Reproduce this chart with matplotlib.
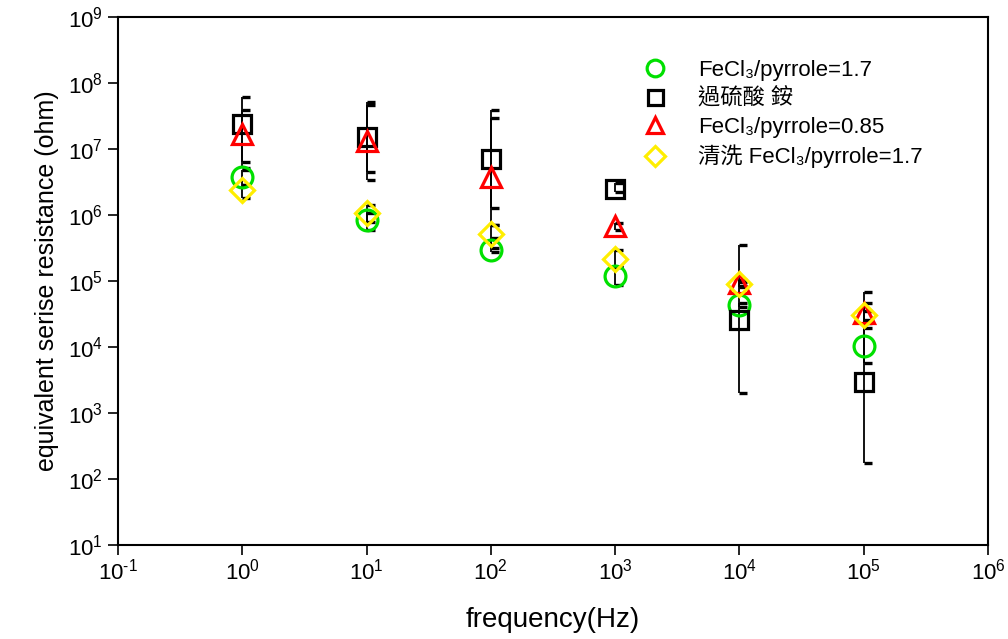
import numpy as np
import matplotlib
matplotlib.use("Agg")
import matplotlib.pyplot as plt
from matplotlib.path import Path
from matplotlib.ticker import FuncFormatter

plt.rcParams['font.family'] = ['Liberation Sans', 'Noto Sans CJK TC', 'DejaVu Sans']
plt.rcParams['mathtext.fontset'] = 'custom'
plt.rcParams['mathtext.rm'] = 'Liberation Sans'
plt.rcParams['mathtext.it'] = 'Liberation Sans:italic'
plt.rcParams['mathtext.bf'] = 'Liberation Sans:bold'
plt.rcParams['mathtext.default'] = 'regular'
plt.rcParams['axes.unicode_minus'] = False

# ---- data ----
freq = [1, 10, 100, 1000, 1e4, 1e5]

labels = ["FeCl\u2083/pyrrole=1.7", "過硫酸 銨", "FeCl\u2083/pyrrole=0.85", "清洗 FeCl\u2083/pyrrole=1.7"]

esr_fecl_17 = [3.77e6, 8.4e5, 2.95e5, 1.19e5, 4.3e4, 1.04e4]
lo_fecl_17 = [2.85e6, 5.93e5, 2.75e5, 8.7e4, 4.0e4, 5.7e3]
hi_fecl_17 = [4.8e6, 1.07e6, 4.49e5, 1.63e5, 4.6e4, 1.94e4]

esr_aps = [2.4e7, 1.5e7, 7.1e6, 2.46e6, 2.6e4, 2.9e3]
lo_aps = [6.36e6, 4.49e6, 1.28e6, 2.23e6, 2.0e3, 1.75e2]
hi_aps = [6.14e7, 5.15e7, 3.9e7, 3.05e6, 3.5e5, 6.8e4]

esr_fecl_085 = [1.7e7, 1.3e7, 3.8e6, 6.7e5, 9.4e4, 3.3e4]
lo_fecl_085 = [5.15e6, 3.39e6, 7.05e5, 6.0e5, 8.5e4, 2.31e4]
hi_fecl_085 = [3.9e7, 4.64e7, 2.95e7, 7.5e5, 1.05e5, 4.64e4]

esr_washed = [2.4e6, 1.07e6, 5.1e5, 2.14e5, 9.0e4, 3.05e4]
lo_washed = [1.81e6, 7.8e5, 3.16e5, 1.63e5, 8.2e4, 2.6e4]
hi_washed = [2.85e6, 1.42e6, 7.05e5, 2.95e5, 9.8e4, 3.5e4]

series = [
    (esr_fecl_17, lo_fecl_17, hi_fecl_17, 'o', '#00e000', 15),
    (esr_aps, lo_aps, hi_aps, 's', 'black', 13.5),
    (esr_fecl_085, lo_fecl_085, hi_fecl_085, '^', 'red', 15),
    (esr_washed, lo_washed, hi_washed, 'D', '#ffee00', 12.5),
]

x_ticks = [1e-1, 1e0, 1e1, 1e2, 1e3, 1e4, 1e5, 1e6]
y_ticks = [1e1, 1e2, 1e3, 1e4, 1e5, 1e6, 1e7, 1e8, 1e9]


def sci(v, pos):
    e = int(round(np.log10(v)))
    if e < 0:
        return r'$10^{\text{-%d}}$' % (-e)
    return r'$10^{%d}$' % e


# ---- figure ----
fig = plt.figure(figsize=(10.08, 6.39), dpi=100)
ax = fig.add_axes([118 / 1008, 1 - 545 / 639, 870 / 1008, 528 / 639])
ax.set_xscale('log')
ax.set_yscale('log')
ax.set_xlim(1e-1, 1e6)
ax.set_ylim(1e1, 1e9)

cap = Path([(0, 0), (1, 0)], [Path.MOVETO, Path.LINETO])

for vals, lo, hi, m, c, ms in series:
    v = np.array(vals)
    ax.errorbar(freq, v, yerr=[v - np.array(lo), np.array(hi) - v], fmt='none',
                ecolor='black', elinewidth=1.3, capsize=0, zorder=2)
    ax.plot(freq, lo, linestyle='none', marker=cap, markersize=12,
            markeredgewidth=2.4, color='black', zorder=2)
    ax.plot(freq, hi, linestyle='none', marker=cap, markersize=12,
            markeredgewidth=2.4, color='black', zorder=2)

handles = []
for (vals, lo, hi, m, c, ms), lab in zip(series, labels):
    h, = ax.plot(freq, vals, linestyle='none', marker=m, markersize=ms,
                 markerfacecolor='none', markeredgecolor=c, markeredgewidth=2.3,
                 label=lab, zorder=3)
    handles.append(h)

ax.set_xticks(x_ticks)
ax.set_yticks(y_ticks)
ax.minorticks_off()
ax.xaxis.set_major_formatter(FuncFormatter(sci))
ax.yaxis.set_major_formatter(FuncFormatter(sci))
ax.tick_params(axis='both', which='major', direction='out', length=7, width=1.2,
               labelsize=16, colors='black')
ax.tick_params(axis='x', pad=3)
ax.tick_params(axis='y', pad=4)
for s in ax.spines.values():
    s.set_linewidth(1.5)

ax.set_xlabel('frequency(Hz)', fontsize=20, labelpad=16)
ax.set_ylabel('equivalent serise resistance (ohm)', fontsize=18, labelpad=6)

leg = ax.legend(handles=handles, loc='upper left', bbox_to_anchor=(639 / 1008, 1 - 60 / 639),
                bbox_transform=fig.transFigure, frameon=False, fontsize=16,
                handlelength=1.4, handletextpad=1.25, labelspacing=0.32,
                borderpad=0, borderaxespad=0, markerscale=0.8)

fig.savefig('out.png', dpi=100)
